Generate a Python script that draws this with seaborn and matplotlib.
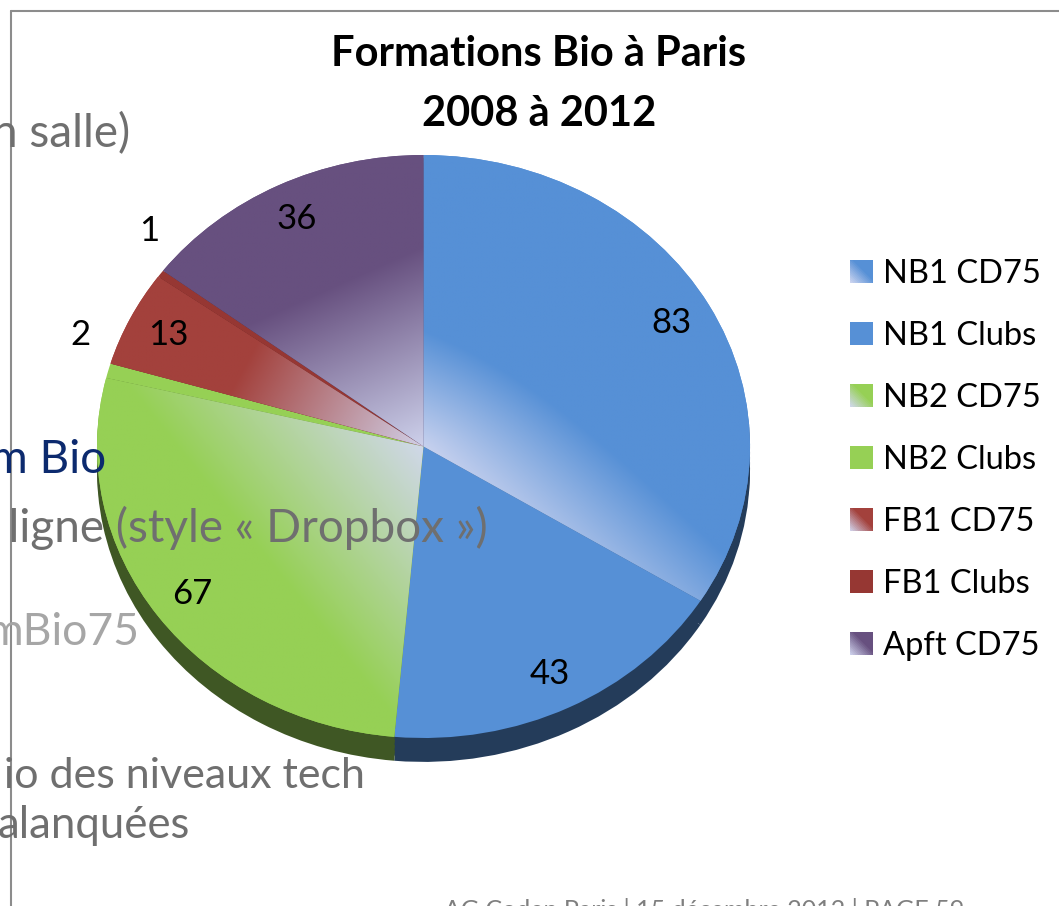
import numpy as np
import matplotlib
matplotlib.use("Agg")
import matplotlib.pyplot as plt
import matplotlib.colors as mcolors
import seaborn as sns
from matplotlib.patches import Patch, Rectangle, Polygon
from matplotlib.legend_handler import HandlerBase

# Données du graphique
categories = ["NB1 CD75", "NB1 Clubs", "NB2 CD75", "NB2 Clubs",
              "FB1 CD75", "FB1 Clubs", "Apft CD75"]
effectifs = [83, 43, 67, 2, 13, 1, 36]
couleurs = ["#5690d6", "#5690d6", "#96d055", "#96d055",
            "#a3413c", "#963733", "#67507f"]
degrade = [True, False, True, False, True, False, True]
titre = ["Formations Bio à Paris", "2008 à 2012"]

# Texte de la diapositive derrière le graphique
texte_diapo = ["n salle)", "m Bio", "n ligne (style « Dropbox »)", "mBio75",
               "io des niveaux tech", "alanquées"]
pied = "AG Codep Paris | 15 décembre 2012 | PAGE 59"

clair = "#d3d8f1"

sns.set_theme(style="white")
plt.rcParams['font.family'] = ['Lato', 'DejaVu Sans']
plt.rcParams['text.color'] = 'black'

W, H = 1059, 906
fig = plt.figure(figsize=(W / 100, H / 100), dpi=100)
fig.patch.set_facecolor("white")

# Ellipse du camembert (vue inclinée)
cx, cy, rx, ry = 423.5, 446.5, 326.5, 291.5
xlo, xhi, ylo, yhi = -1.25, 1.25, -1.35, 1.2
ax = fig.add_axes([(cx + xlo * rx) / W, (H - cy + ylo * ry) / H,
                   (xhi - xlo) * rx / W, (yhi - ylo) * ry / H])

# Epaisseur du disque (côté sombre)
profondeur = 0.082
sombres = [tuple(np.array(mcolors.to_rgb(c)) * 0.42) for c in couleurs]
for k in np.linspace(profondeur, 0.01, 5):
    ax.pie(effectifs, colors=sombres, startangle=90, counterclock=False,
           center=(0, -k), radius=1, wedgeprops=dict(linewidth=0))

total = sum(effectifs)
wedges, _, valeurs = ax.pie(
    effectifs, colors=couleurs, startangle=90, counterclock=False,
    autopct=lambda p: f"{p * total / 100:.0f}", pctdistance=0.87,
    textprops=dict(fontsize=25, color="black"),
    wedgeprops=dict(linewidth=0))

# Dégradés vers le centre
xs = np.linspace(-1.05, 1.05, 500)
X, Y = np.meshgrid(xs, xs)
R = np.hypot(X, Y)
for i, (w, base, grad) in enumerate(zip(wedges, couleurs, degrade)):
    if not grad:
        continue
    mid = np.radians((w.theta1 + w.theta2) / 2)
    if i == 0:
        a = np.radians(w.theta1 + 90)
        T = np.clip((X * np.cos(a) + Y * np.sin(a)) / 0.5 + 0.55 * R + 0.1, 0, 1)
    else:
        T = np.clip((X * np.cos(mid) + Y * np.sin(mid)) / 0.65 + 0.05, 0, 1)
    cmap = sns.blend_palette([clair, base], as_cmap=True)
    im = ax.imshow(T, cmap=cmap, vmin=0, vmax=1, origin="lower",
                   extent=(-1.05, 1.05, -1.05, 1.05), aspect="auto",
                   interpolation="bilinear", zorder=1.5)
    im.set_clip_path(w)

# Etiquettes : les petites valeurs hors du disque
for w, t, v in zip(wedges, valeurs, effectifs):
    t.set_zorder(5)
    if v < 5:
        ang = np.radians((w.theta1 + w.theta2) / 2 - 5)
        t.set_position((1.12 * np.cos(ang), 1.12 * np.sin(ang)))

ax.set_aspect("auto")
ax.set_xlim(xlo, xhi)
ax.set_ylim(ylo, yhi)
ax.axis("off")

# Calque supérieur en pixels
ov = fig.add_axes([0, 0, 1, 1])
ov.set_xlim(0, W)
ov.set_ylim(H, 0)
ov.axis("off")
ov.patch.set_alpha(0)

ov.plot([10.5, 10.5], [10.5, H], color="#8c8c8c", lw=1.5)
ov.plot([10.5, W], [10.5, 10.5], color="#8c8c8c", lw=1.5)

ov.text(539, 66, titre[0], ha="center", va="baseline", fontsize=30,
        fontweight="bold", color="black")
ov.text(539, 126, titre[1], ha="center", va="baseline", fontsize=30,
        fontweight="bold", color="black")


class HandlerDegrade(HandlerBase):
    def create_artists(self, legend, orig_handle, xdescent, ydescent,
                       width, height, fontsize, trans):
        base = mcolors.to_rgb(orig_handle.get_facecolor())
        x0, y0 = -xdescent, -ydescent
        arts = [Rectangle((x0, y0), width, height, facecolor=base,
                          edgecolor="none", transform=trans)]
        if getattr(orig_handle, "degrade", False):
            pal = sns.blend_palette([clair, base], 12)
            for j, c in enumerate(np.linspace(1.2, 0.05, 12)):
                s = c / 2
                col = pal[min(11, int(s / 0.6 * 11))]
                if c <= 1:
                    pts = [(0, 0), (c, 0), (0, c)]
                else:
                    pts = [(0, 0), (1, 0), (1, c - 1), (c - 1, 1), (0, 1)]
                pts = [(x0 + u * width, y0 + v * height) for u, v in pts]
                arts.append(Polygon(pts, closed=True, facecolor=col,
                                    edgecolor="none", transform=trans))
        return arts


poignees = []
for c, g in zip(couleurs, degrade):
    p = Patch(facecolor=c)
    p.degrade = g
    poignees.append(p)

leg = ov.legend(poignees, categories, loc="upper left", bbox_to_anchor=(850, 259),
                bbox_transform=ov.transData, frameon=False, fontsize=23.5,
                handlelength=0.7, handleheight=0.7, handletextpad=0.3,
                labelspacing=0.98, borderpad=0, borderaxespad=0,
                handler_map={Patch: HandlerDegrade()})
for t in leg.get_texts():
    t.set_color("black")

# Texte de la diapositive (par-dessus le graphique)
gris = "#6f6f6f"
ov.text(130, 147, texte_diapo[0], ha="right", va="baseline", fontsize=33, color=gris, zorder=10)
ov.text(106, 473, texte_diapo[1], ha="right", va="baseline", fontsize=33, color="#0c2a6e", zorder=10)
ov.text(488, 542, texte_diapo[2], ha="right", va="baseline", fontsize=33, color=gris, zorder=10)
ov.text(140, 645, texte_diapo[3], ha="right", va="baseline", fontsize=32, color="#a6a6a6", zorder=10)
ov.text(365, 788, texte_diapo[4], ha="right", va="baseline", fontsize=31, color=gris, zorder=10)
ov.text(190, 838, texte_diapo[5], ha="right", va="baseline", fontsize=31.5, color=gris, zorder=10)
ov.text(444, 918, pied, ha="left", va="baseline", fontsize=18, color="#7f7f7f", zorder=10)

fig.savefig("out.png", dpi=100)
